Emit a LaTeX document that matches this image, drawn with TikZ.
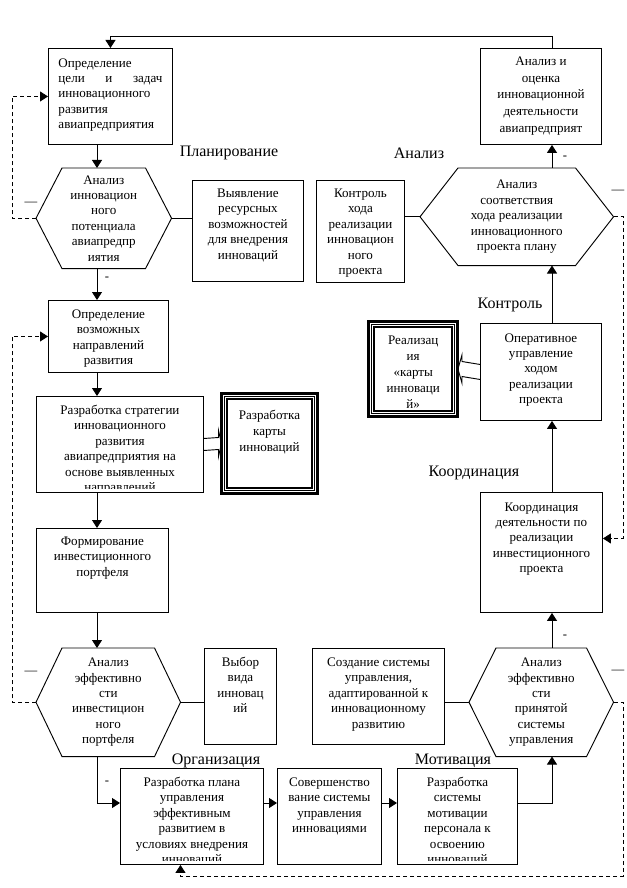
\documentclass[tikz,border=0pt]{standalone}
\usepackage{fontspec}
\setmainfont{Liberation Serif}
\usetikzlibrary{arrows.meta,calc}

% top aligned text block of a box
\newcommand{\bxt}[4][13.5pt]{\parbox[c][#3][t]{#2}{\centering\rule{0pt}{#1}#4}}

\tikzset{
  box/.style={draw, line width=0.7pt, anchor=north west, inner sep=0pt, font=\fontsize{9.8}{11.55}\selectfont},
  tri/.style={draw, line width=2.25pt, outer sep=0pt, anchor=north west, inner sep=0pt, font=\fontsize{9.8}{11.85}\selectfont},
  hexa/.style={anchor=north west, inner sep=0pt, align=center, font=\fontsize{9.8}{11.55}\selectfont},
  lbl/.style={inner sep=0pt, font=\fontsize{12}{14}\selectfont},
  sgn/.style={inner sep=0pt, font=\fontsize{9.5}{11}\selectfont},
  arr/.style={line width=0.7pt, -{Triangle[length=6pt,width=7.5pt]}},
  fb/.style={arr, dash pattern={on 3pt off 2.25pt}},
  blk/.style={line width=0.7pt, line join=miter},
}

\begin{document}
\begin{tikzpicture}[x=0.75pt,y=0.75pt,yscale=-1,xscale=1]
\useasboundingbox (0,0) rectangle (626,888);

% guide lines
\coordinate (colL) at (97,0);
\coordinate (colR) at (552,0);
\coordinate (topY) at (0,36);
\coordinate (rowB) at (0,803);
\coordinate (botY) at (0,876);
\coordinate (lX) at (12,0);
\coordinate (rX) at (623,0);

%Shape: Rectangle [goal]
\node[box] (goal) at (48,48) {\parbox[c][72pt][t]{93pt}{\leftskip=7.5pt\rightskip=7.5pt\rule{0pt}{14pt}Определение\\\makebox[78pt][s]{цели и задач}\\инновационного\\развития\\авиапредприятия}};
%Shape: Rectangle [eval]
\node[box, font=\fontsize{9.8}{12.5}\selectfont] (eval) at (480,48) {\bxt[12.75pt]{90.75pt}{72pt}{Анализ и\\оценка\\инновационной\\деятельности\\авиапредприят}};
%Shape: Rectangle [res]
\node[box] (res) at (192,180) {\bxt[12.75pt]{83.25pt}{75.75pt}{Выявление\\ресурсных\\возможностей\\для внедрения\\инноваций}};
%Shape: Rectangle [ctrl]
\node[box] (ctrl) at (316,180) {\bxt[12.75pt]{66pt}{76.5pt}{Контроль\\хода\\реализации\\инновацион\\ного\\проекта}};
%Shape: Rectangle [dirs]
\node[box] (dirs) at (48,300) {\bxt{90pt}{54pt}{Определение\\возможных\\направлений\\развития}};
%Shape: Rectangle [strat]
\node[box] (strat) at (36,396) {\bxt{125.25pt}{72pt}{Разработка стратегии\\инновационного\\развития\\авиапредприятия на\\основе выявленных\\направлений}};
%Shape: Rectangle [port]
\node[box] (port) at (36,528) {\bxt[12.75pt]{99pt}{63pt}{Формирование\\инвестиционного\\портфеля}};
%Shape: Rectangle [oper]
\node[box] (oper) at (480,323) {\bxt[14pt]{90.75pt}{72.75pt}{Оперативное\\управление\\ходом\\реализации\\проекта}};
%Shape: Rectangle [coord]
\node[box] (coord) at (480,492) {\bxt[14pt]{91.5pt}{90pt}{Координация\\деятельности по\\реализации\\инвестиционного\\проекта}};
%Shape: Rectangle [choice]
\node[box] (choice) at (204,648) {\bxt{54pt}{72pt}{Выбор\\вида\\инновац\\ий}};
%Shape: Rectangle [create]
\node[box] (create) at (312,648) {\bxt{99pt}{72pt}{Создание системы\\управления,\\адаптированной к\\инновационному\\развитию}};
%Shape: Rectangle [plan]
\node[box] (plan) at (120,768) {\bxt{107.25pt}{72pt}{Разработка плана\\управления\\эффективным\\развитием в\\условиях внедрения\\инноваций}};
%Shape: Rectangle [improve]
\node[box] (improve) at (277,768) {\bxt{78pt}{72pt}{Совершенство\\вание системы\\управления\\инновациями}};
%Shape: Rectangle [motiv]
\node[box] (motiv) at (397,768) {\bxt{90pt}{72pt}{Разработка\\системы\\мотивации\\персонала к\\освоению\\инноваций}};

% cut off the last lines that run over
\foreach \b in {strat,plan,motiv}{
  \fill[white] ($(\b.south west)+(1,-4)$) rectangle ($(\b.south east)+(-1,10)$);
  \draw[line width=0.7pt] (\b.south west) -- (\b.south east);
}

%Shape: Triple frames [map, real]
\node[tri] (map) at (221.5,393.5) {\bxt[19.5pt]{72pt}{75pt}{Разработка\\карты\\инноваций}};
\node[tri] (real) at (368.5,321.5) {\bxt[17.5pt]{67.1pt}{71.25pt}{Реализац\\ия\\«карты\\инноваци\\й»}};
\foreach \t in {map,real}{
  \draw[line width=0.75pt] ($(\t.north west)+(3,3)$) rectangle ($(\t.south east)+(-3,-3)$);
  \draw[line width=1.5pt] ($(\t.north west)+(5.5,5.5)$) rectangle ($(\t.south east)+(-5.5,-5.5)$);
}

%Shape: Hexagons
\node[hexa, minimum width=101.25pt, minimum height=75pt] (hexA) at (36,168) {Анализ\\инновацион\\ного\\потенциала\\авиапредпр\\иятия};
\node[hexa, minimum width=144.75pt, minimum height=72.75pt] (hexB) at (420,168) {Анализ\\соответствия\\хода реализации\\инновационного\\проекта плану};
\node[hexa, minimum width=108pt, minimum height=81pt] (hexC) at (36,648) {Анализ\\эффективно\\сти\\инвестицион\\ного\\портфеля};
\node[hexa, minimum width=108pt, minimum height=81pt] (hexD) at (469,648) {Анализ\\эффективно\\сти\\принятой\\системы\\управления};
\foreach \h/\d in {hexA/26,hexB/38,hexC/26,hexD/27}
  \draw[line width=0.7pt] ($(\h.north west)+(\d,0)$) -- ($(\h.north east)+(-\d,0)$) -- (\h.east)
    -- ($(\h.south east)+(-\d,0)$) -- ($(\h.south west)+(\d,0)$) -- (\h.west) -- cycle;

% Text Node
\node[lbl] (lPlan) at (229,153) {Планирование};
\node[lbl] (lAnal) at (419,153) {Анализ};
\node[lbl] (lCtrl) at (510,305) {Контроль};
\node[lbl] (lCoord) at (474,473) {Координация};
\node[lbl] (lOrg) at (216,761) {Организация};
\node[lbl] (lMot) at (453,761) {Мотивация};
\node[sgn] (dA) at (31,204) {—};
\node[sgn] (dB) at (618,192) {—};
\node[sgn] (dC) at (31,673) {—};
\node[sgn] (dD) at (618,672) {—};
\node[sgn] (mA) at (107,279) {-};
\node[sgn] (mB) at (565,158) {-};
\node[sgn] (mC) at (565,637) {-};
\node[sgn] (mD) at (107,783) {-};

%Straight Lines: left column
\draw[arr] (eval.north -| colR) |- (goal.north |- topY) -- (goal.north);
\draw[arr] (goal.south -| colL) -- (hexA.north -| colL);
\draw[arr] (hexA.south -| colL) -- (dirs.north -| colL);
\draw[arr] (dirs.south -| colL) -- (strat.north -| colL);
\draw[arr] (strat.south -| colL) -- (port.north -| colL);
\draw[arr] (port.south -| colL) -- (hexC.north -| colL);
%Straight Lines: bottom row
\draw[arr] (hexC.south -| colL) |- (plan.west |- rowB);
\draw[arr] (plan.east |- rowB) -- (improve.west |- rowB);
\draw[arr] (improve.east |- rowB) -- (motiv.west |- rowB);
\draw[arr] (motiv.east |- rowB) -| (hexD.south -| colR);
%Straight Lines: right column
\draw[arr] (hexD.north -| colR) -- (coord.south -| colR);
\draw[arr] (coord.north -| colR) -- (oper.south -| colR);
\draw[arr] (oper.north -| colR) -- (hexB.south -| colR);
\draw[arr] (hexB.north -| colR) -- (eval.south -| colR);
%Straight Lines: side links
\draw[line width=0.7pt] (hexA.east) -- (hexA.east -| res.west);
\draw[line width=0.7pt] (hexB.west) -- (hexB.west -| ctrl.east);
\draw[line width=0.7pt] (hexC.east) -- (hexC.east -| choice.west);
\draw[line width=0.7pt] (hexD.west) -- (hexD.west -| create.east);
%Block arrows
\draw[blk] ($(strat.east)+(0,-6)$) -- ($(map.west)+(-3,-6)$) -- ($(map.west)+(-3,-13)$) -- (map.west)
  -- ($(map.west)+(-3,13)$) -- ($(map.west)+(-3,6)$) -- ($(strat.east)+(0,6)$);
\draw[blk] ($(oper.west)+(0,-7.5)$) -- ($(real.east)+(4,-7.5)$) -- ($(real.east)+(4,-14)$) -- (real.east)
  -- ($(real.east)+(4,14)$) -- ($(real.east)+(4,7.5)$) -- ($(oper.west)+(0,7.5)$);
%Dashed feedback
\draw[fb] (hexA.west) -- (hexA.west -| lX) |- (goal.west);
\draw[fb] (hexC.west) -- (hexC.west -| lX) |- (dirs.west);
\draw[fb] (hexB.east) -- (hexB.east -| rX) |- ($(coord.east)+(0,-14)$);
\draw[fb] (hexD.east) -- (hexD.east -| rX) -- (rX |- botY) -| ($(plan.south)+(-11.5,0)$);

\end{tikzpicture}
\end{document}
